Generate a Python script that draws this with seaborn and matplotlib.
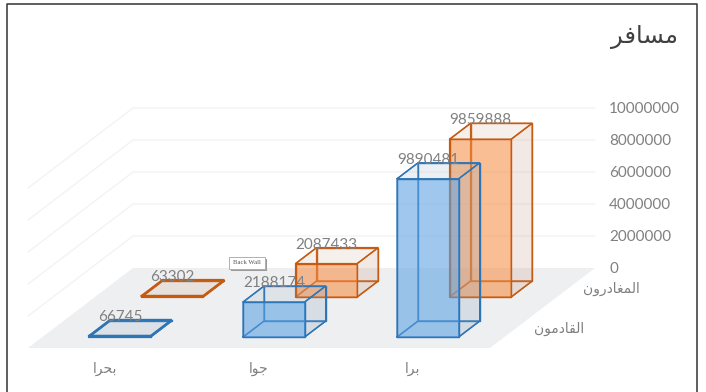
import seaborn as sns
import matplotlib.pyplot as plt
from matplotlib.patches import Rectangle

categories = ["بحرا", "جوا", "برا"]
series_names = ["القادمون", "المغادرون"]
arrivals = [66745, 2188174, 9890481]
departures = [63302, 2087433, 9859888]
y_ticks = [0, 2000000, 4000000, 6000000, 8000000, 10000000]
title = "مسافر"

sns.set_theme(style="white")
plt.rcParams['font.family'] = ['Lato', 'DejaVu Sans']

# matplotlib does not join arabic letters, so pick the joined glyphs by hand
# letter: isolated, final, initial, medial
forms = {
    "ا": "\ufe8d\ufe8e", "د": "\ufea9\ufeaa", "ر": "\ufead\ufeae", "و": "\ufeed\ufeee",
    "ب": "\ufe8f\ufe90\ufe91\ufe92", "ج": "\ufe9d\ufe9e\ufe9f\ufea0",
    "ح": "\ufea1\ufea2\ufea3\ufea4", "س": "\ufeb1\ufeb2\ufeb3\ufeb4",
    "غ": "\ufecd\ufece\ufecf\ufed0", "ف": "\ufed1\ufed2\ufed3\ufed4",
    "ق": "\ufed5\ufed6\ufed7\ufed8", "ل": "\ufedd\ufede\ufedf\ufee0",
    "م": "\ufee1\ufee2\ufee3\ufee4", "ن": "\ufee5\ufee6\ufee7\ufee8",
}

def shape(word):
    out = []
    for i, ch in enumerate(word):
        f = forms[ch]
        after_join = i > 0 and len(forms[word[i - 1]]) == 4
        before_join = i < len(word) - 1 and len(f) == 4
        if after_join and before_join:
            out.append(f[3])
        elif before_join:
            out.append(f[2])
        elif after_join:
            out.append(f[1])
        else:
            out.append(f[0])
    return "".join(reversed(out))

# oblique projection of the chart box, in pixels of the figure
left, floor_y = 28, 348
floor_w, depth_x, depth_y = 462, 105, 80
px_per_unit = 160 / 10000000

def project(cat, depth, value):
    x = left + cat * floor_w / len(categories) + depth * depth_x
    y = floor_y - depth * depth_y - value * px_per_unit
    return x, y

def face(ax, pts, fill, alpha, edge, lw=1.0, z=3):
    xs = [p[0] for p in pts]
    ys = [p[1] for p in pts]
    ax.fill(xs, ys, color=fill, alpha=alpha, lw=0, zorder=z)
    ax.plot(xs + xs[:1], ys + ys[:1], color=edge, lw=lw, zorder=z, solid_joinstyle="miter")

def draw_bar(ax, cat, row, value, fill, edge, side):
    c0, c1 = cat + 0.303, cat + 0.703
    d0, d1 = row * 0.5 + 0.1375, row * 0.5 + 0.3375
    lw = 1.6 if value < 100000 else 1.0
    a, b = project(c0, d0, 0), project(c1, d0, 0)
    c, d = project(c1, d1, 0), project(c0, d1, 0)
    at, bt = project(c0, d0, value), project(c1, d0, value)
    ct, dt = project(c1, d1, value), project(c0, d1, value)
    z = 3 + row * -1 + 1
    # inside of the box first, the wire stays visible through the front
    face(ax, [d, c, ct, dt], side, 0.08, edge, z=z)
    face(ax, [a, d, dt, at], side, 0.08, edge, z=z)
    face(ax, [a, b, c, d], side, 0.10, edge, z=z)
    face(ax, [b, c, ct, bt], side, 0.16, edge, z=z)
    face(ax, [at, bt, ct, dt], side, 0.08, edge, lw=lw, z=z)
    face(ax, [a, b, bt, at], fill, 0.55, edge, lw=lw, z=z)
    ax.text((at[0] + bt[0]) / 2, at[1] - 19, str(value), ha="center", va="center",
            fontsize=11, color="#808080", zorder=8)

def main():
    fig = plt.figure(figsize=(7.06, 3.92), dpi=100)
    ax = fig.add_axes([0, 0, 1, 1])
    ax.set_xlim(0, 706)
    ax.set_ylim(392, 0)
    ax.axis("off")

    ax.plot([7, 7, 697, 697], [392, 4, 4, 392], color="#333333", lw=1.1, zorder=9)

    n = len(categories)
    floor = [project(0, 0, 0), project(n, 0, 0), project(n, 1, 0), project(0, 1, 0)]
    ax.fill([p[0] for p in floor], [p[1] for p in floor], color="#eeeff1", lw=0, zorder=1)

    for tick in y_ticks:
        p0, p1, p2 = project(0, 0, tick), project(0, 1, tick), project(n, 1, tick)
        if tick > 0:
            ax.plot([p0[0], p1[0], p2[0]], [p0[1], p1[1], p2[1]], color="#f3f3f3", lw=1, zorder=2)
        ax.text(609, p2[1] + 1, str(tick), ha="left", va="center", fontsize=11, color="#808080")

    blue = sns.color_palette(["#5ba3e6", "#2e75b6", "#8aa4bd"])
    orange = sns.color_palette(["#f98f45", "#c55a11", "#c9a18c"])
    for i in range(n):
        draw_bar(ax, i, 1, departures[i], orange[0], orange[1], orange[2])
    for i in range(n):
        draw_bar(ax, i, 0, arrivals[i], blue[0], blue[1], blue[2])

    for i, name in enumerate(categories):
        x, _ = project(i + 0.5, 0, 0)
        ax.text(x, 369, shape(name), ha="center", va="center", family="DejaVu Sans",
                fontsize=10, color="#7f7f7f")

    for row, name in enumerate(series_names):
        x, y = project(n, row * 0.5 + 0.25, 0)
        ax.text(x + 43, y + 1, shape(name), ha="center", va="center", family="DejaVu Sans",
                fontsize=10, color="#7f7f7f")

    ax.text(644, 37, shape(title), ha="center", va="center", family="DejaVu Sans",
            fontsize=17.5, color="#404040")

    # the tooltip left over in the screenshot
    ax.add_patch(Rectangle((231, 259), 36, 12, color="#9a9a9a", lw=0, zorder=6))
    ax.add_patch(Rectangle((229, 257), 36, 12, facecolor="white", edgecolor="#b0b0b0", lw=0.7, zorder=6))
    ax.text(247, 263, "Back Wall", ha="center", va="center", fontsize=4.8, color="#555555",
            family="Liberation Serif", zorder=7)

    fig.savefig("out.png", dpi=100)

if __name__ == "__main__":
    main()
